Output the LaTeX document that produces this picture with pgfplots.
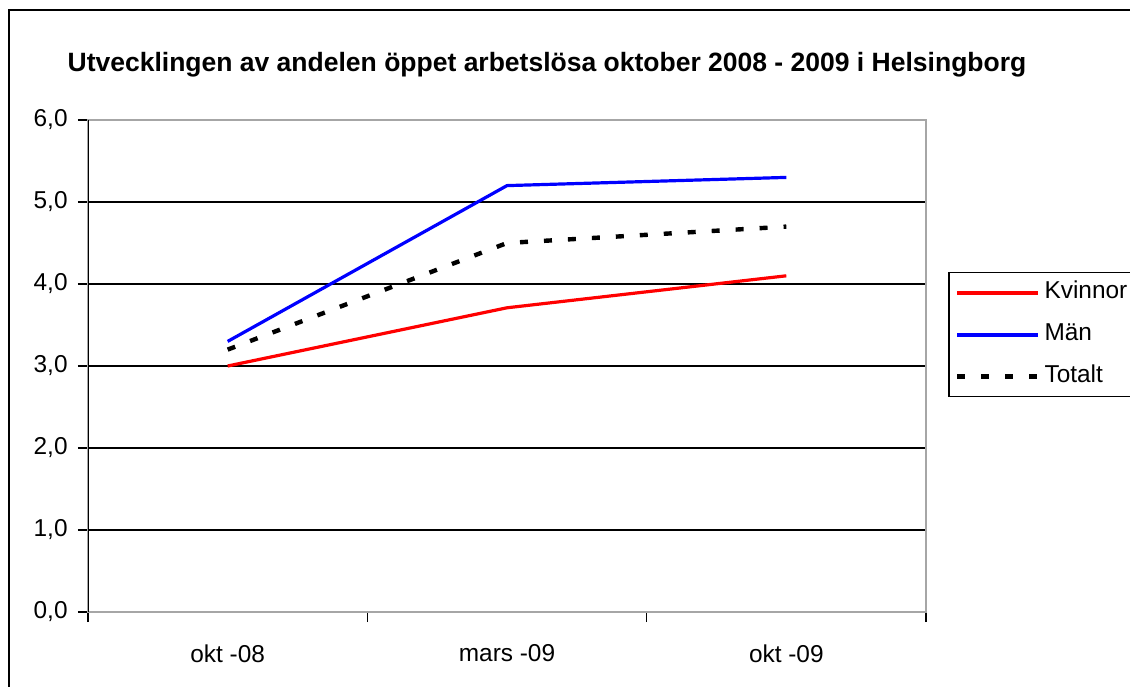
\documentclass[border=0pt]{standalone}
\usepackage{fontspec}
\setmainfont{Liberation Sans}
\usepackage{pgfplots}
\pgfplotsset{compat=1.18}
\begin{document}
\fontsize{12}{14}\selectfont
\begin{tikzpicture}[x=1pt,y=1pt]
\useasboundingbox (0,0) rectangle (565,343);
\draw[line width=1pt] (4.3,-5) -- (4.3,338) -- (570,338);
\node[font=\bfseries\fontsize{13.25}{15}\selectfont] at (273.5,310.5) {Utvecklingen av andelen öppet arbetslösa oktober 2008 - 2009 i Helsingborg};
\begin{axis}[
  at={(44pt,37pt)}, anchor=south west,
  scale only axis, width=419pt, height=246pt,
  xmin=-0.5, xmax=2.5, ymin=0, ymax=6,
  ytick={0,1,2,3,4,5,6},
  ymajorgrids, grid style={black, line width=0.8pt},
  xtick={-0.5,0.5,1.5,2.5}, xticklabels={},
  extra x ticks={0,1,2},
  extra x tick labels={okt -08, mars -09, okt -09},
  extra x tick style={major tick length=0pt, xticklabel style={yshift=-12pt}},
  tick align=outside, major tick length=5pt,
  xtick pos=bottom, ytick pos=left,
  tick style={black, line width=0.6pt},
  x axis line style={black, line width=1pt},
  y axis line style={gray!70, line width=0.6pt},
  /pgf/number format/assume math mode=true,
  yticklabel style={xshift=-1pt, /pgf/number format/fixed, /pgf/number format/fixed zerofill, /pgf/number format/precision=1, /pgf/number format/use comma},
  tick label style={font=\fontsize{12.2}{14}\selectfont, black},
  legend style={at={(1.0263,0.6911)}, anchor=north west, draw=black, line width=0.75pt,
    inner xsep=3pt, inner ysep=2pt, row sep=5pt,
    nodes={inner sep=2pt, text height=9pt, text depth=3pt, font=\fontsize{12.2}{14}\selectfont}},
  legend cell align=left,
  legend image code/.code={\draw[#1] (0pt,0pt) -- (40.5pt,0pt);},
  every legend entry/.append style={xshift=2pt},
]
\addplot[red, line width=1.6pt, legend image post style={line width=2pt}] coordinates {(0,3.0) (1,3.71) (2,4.1)};
\addlegendentry{Kvinnor}
\addplot[blue, line width=1.6pt, legend image post style={line width=2pt}] coordinates {(0,3.3) (1,5.2) (2,5.3)};
\addlegendentry{Män}
\addplot[black, line width=2.2pt, dash pattern=on 4pt off 8pt, legend image post style={line width=2.4pt}] coordinates {(0,3.2) (1,4.5) (2,4.7)};
\addlegendentry{Totalt}
\draw[black, line width=0.6pt] (rel axis cs:0,0) -- (rel axis cs:0,1);
\end{axis}
\end{tikzpicture}
\end{document}
